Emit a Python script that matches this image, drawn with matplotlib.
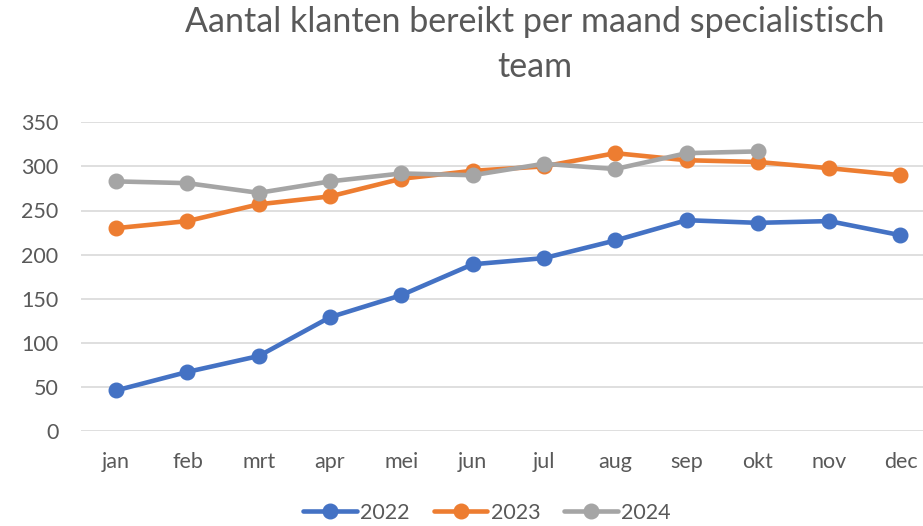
import matplotlib.pyplot as plt
import numpy as np

plt.rcParams['font.family'] = ['Lato', 'DejaVu Sans']

maanden = ['jan', 'feb', 'mrt', 'apr', 'mei', 'jun', 'jul', 'aug', 'sep', 'okt', 'nov', 'dec']
klanten_2022 = [46, 67, 85, 129, 154, 189, 196, 216, 239, 236, 238, 222]
klanten_2023 = [230, 238, 257, 266, 286, 295, 300, 315, 307, 305, 298, 290]
klanten_2024 = [283, 281, 270, 283, 292, 290, 303, 297, 315, 317]
jaren = ['2022', '2023', '2024']
kleuren = ['#4472C4', '#ED7D31', '#A5A5A5']
tekstKleur = '#595959'

fig = plt.figure(figsize=(9.23, 5.26), dpi=100)
ax = fig.add_axes([80.5 / 923, 95 / 526, (923 - 80.5) / 923, (431 - 122.3) / 526])

x = np.arange(len(maanden))
for reeks, jaar, kleur in zip([klanten_2022, klanten_2023, klanten_2024], jaren, kleuren):
    ax.plot(x[:len(reeks)], reeks, '-o', color=kleur, linewidth=3.3,
            markersize=10.5, label=jaar, zorder=3, solid_capstyle='round')

ax.set_ylim(0, 350)
ax.set_xlim(-0.5, -0.5 + (923 - 80.5) / 71.3)
ax.set_yticks(np.arange(0, 351, 50))
ax.set_xticks(x)
ax.set_xticklabels(maanden)
ax.grid(axis='y', color='#D9D9D9', linewidth=1.2, zorder=0)
ax.tick_params(axis='both', length=0, labelsize=15.5, labelcolor=tekstKleur)
ax.tick_params(axis='x', pad=15)
ax.tick_params(axis='y', pad=16)
for spine in ax.spines.values():
    spine.set_visible(False)

fig.text(535 / 923, 1 - 22 / 526, 'Aantal klanten bereikt per maand specialistisch',
         ha='center', va='center', fontsize=24.5, color=tekstKleur)
fig.text(535 / 923, 1 - 67 / 526, 'team',
         ha='center', va='center', fontsize=24.5, color=tekstKleur)

fig.legend(loc='center', bbox_to_anchor=(487 / 923, 13 / 526), ncol=3,
           frameon=False, fontsize=15.5, labelcolor=tekstKleur,
           handlelength=2.5, handletextpad=0.15, columnspacing=1.1)

fig.savefig('out.png', dpi=100)
